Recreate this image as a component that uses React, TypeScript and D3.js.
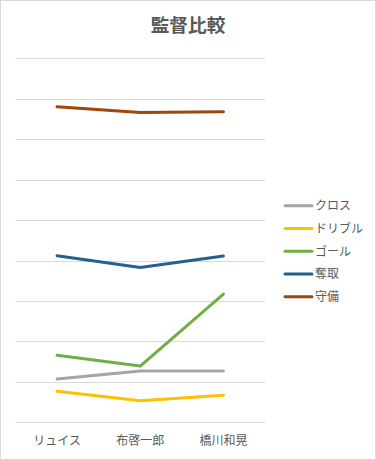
import React from "react";
import * as d3 from "d3";

const categories = ["リュイス", "布啓一郎", "橋川和晃"];
const seriesNames = ["クロス", "ドリブル", "ゴール", "奪取", "守備"];
const crossValues = [1.07, 1.27, 1.27];
const dribbleValues = [0.77, 0.53, 0.67];
const goalValues = [1.66, 1.39, 3.17];
const stealValues = [4.12, 3.83, 4.11];
const defenseValues = [7.8, 7.66, 7.68];
const seriesColors = ["#a5a5a5", "#ffc000", "#70ad47", "#255e91", "#9e480e"];
const yTicks = [0, 1, 2, 3, 4, 5, 6, 7, 8, 9];
const title = "監督比較";

const W = 376;
const H = 460;
const font = "'Noto Sans CJK JP', 'Noto Sans', sans-serif";

export default function App() {
  const allSeries = [crossValues, dribbleValues, goalValues, stealValues, defenseValues];
  const x = d3.scaleBand<string>().domain(categories).range([15.5, 265]);
  const y = d3.scaleLinear().domain([0, 9]).range([422.3, 58.3]);
  const line = d3
    .line<number>()
    .x((_, i) => (x(categories[i]) as number) + x.bandwidth() / 2)
    .y((d) => y(d));
  const legendY = d3.scalePoint<string>().domain(seriesNames).range([205.7, 296.7]);

  return (
    <svg
      width={W}
      height={H}
      style={{ position: "absolute", left: 0, top: 0, background: "#fff" }}
      fontFamily={font}
    >
      <rect x={0.5} y={0.5} width={W - 1} height={H - 1} fill="#fff" stroke="#d9d9d9" />
      <text x={188} y={32} textAnchor="middle" fontSize={18.67} fontWeight="bold" fill="#595959">
        {title}
      </text>
      {yTicks.map((t) => (
        <line
          key={t}
          x1={15.5}
          x2={265}
          y1={Math.round(y(t)) + 0.5}
          y2={Math.round(y(t)) + 0.5}
          stroke="#d9d9d9"
          strokeWidth={1}
        />
      ))}
      {categories.map((c) => (
        <text
          key={c}
          x={(x(c) as number) + x.bandwidth() / 2}
          y={445}
          textAnchor="middle"
          fontSize={12}
          fill="#595959"
        >
          {c}
        </text>
      ))}
      {allSeries.map((s, i) => (
        <path
          key={seriesNames[i]}
          d={line(s) || ""}
          fill="none"
          stroke={seriesColors[i]}
          strokeWidth={3}
          strokeLinejoin="round"
          strokeLinecap="round"
        />
      ))}
      {seriesNames.map((n, i) => {
        const ly = legendY(n) as number;
        return (
          <g key={n}>
            <line x1={285} x2={312} y1={ly} y2={ly} stroke={seriesColors[i]} strokeWidth={3} strokeLinecap="round" />
            <text x={315} y={ly + 4.3} fontSize={12} fill="#595959">
              {n}
            </text>
          </g>
        );
      })}
    </svg>
  );
}
